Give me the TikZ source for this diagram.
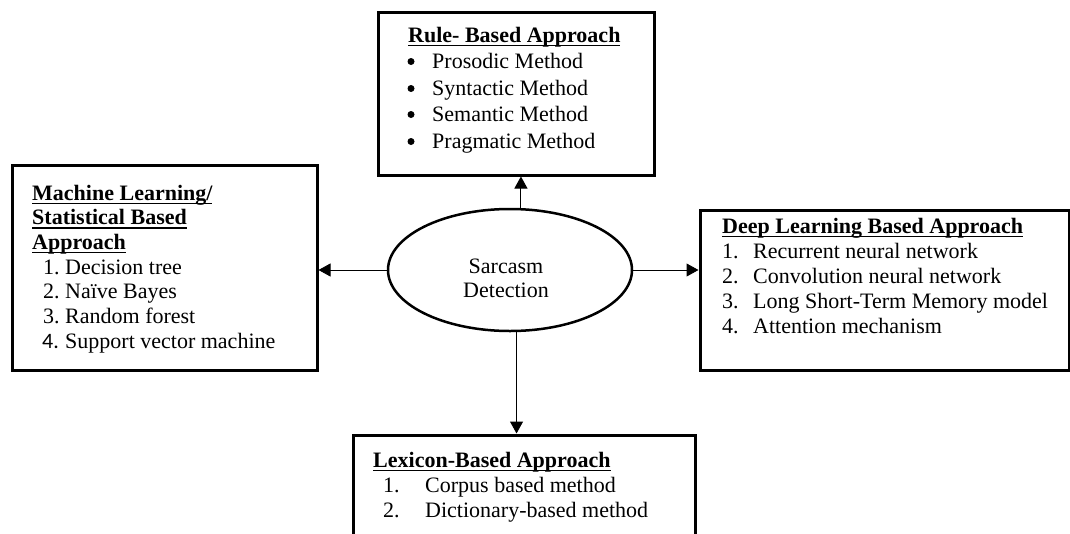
\documentclass[tikz,border=0pt]{standalone}
\usepackage{fontspec}
\setmainfont{Liberation Serif}
\newfontfamily\numfont{Carlito}
\usetikzlibrary{arrows.meta,shapes.geometric}
\newlength\ulw
\newcommand\uln[1]{\settowidth\ulw{#1}\rlap{\rule[-4pt]{\ulw}{1.5pt}}#1}

\begin{document}
\begin{tikzpicture}[line cap=round,line join=round,>={Triangle[length=12pt,width=13pt]},x=1pt,y=-1pt,
  box/.style={draw,line width=3pt,line cap=butt,line join=miter,inner sep=0pt},
  txt/.style={anchor=base west,inner sep=0pt,font=\fontsize{22}{26}\selectfont},
  hd/.style={txt,font=\fontsize{22}{26}\selectfont\bfseries},
  dot/.style={txt,anchor=base},
  bul/.style={circle,fill,inner sep=0pt,minimum size=7pt}]
\useasboundingbox (0,0) rectangle (1070,533);
\clip (0,0) rectangle (1070,533);

% boxes
\node[box,minimum width=276pt,minimum height=163pt] (rule) at (516,93.5) {};
\node[box,minimum width=305pt,minimum height=205pt] (ml) at (164.5,267.5) {};
\node[box,minimum width=369pt,minimum height=160pt] (dl) at (884.5,290) {};
\node[box,minimum width=342pt,minimum height=140pt] (lex) at (524,505) {};
\node[ellipse,draw,line width=2.5pt,minimum width=244pt,minimum height=122pt,inner sep=0pt] (sd) at (510,270) {};
\node[dot] (sd1) at (506,273) {Sarcasm};
\node[dot] (sd2) at (506,297) {Detection};

% rule based
\node[hd] (r0) at (408,42) {\uln{Rule- Based Approach}};
\node[bul] (b1) at (411,61.5) {};
\node[txt] (r1) at (432,68) {Prosodic Method};
\node[bul] (b2) at (411,88.5) {};
\node[txt] (r2) at (432,95) {Syntactic Method};
\node[bul] (b3) at (411,114.5) {};
\node[txt] (r3) at (432,121) {Semantic Method};
\node[bul] (b4) at (411,141.5) {};
\node[txt] (r4) at (432,148) {Pragmatic Method};

% machine learning
\node[hd] (m0) at (32,200) {\uln{Machine Learning/}};
\node[hd] (m00) at (32,224.7) {\uln{Statistical Based}};
\node[hd] (m000) at (32,249.4) {\uln{Approach}};
\node[txt] (n1) at (43,274) {1.};
\node[txt] (m1) at (65,274) {Decision tree};
\node[txt] (n2) at (43,298.8) {2.};
\node[txt] (m2) at (65,298.8) {Naïve Bayes};
\node[txt] (n3) at (43,323.5) {3.};
\node[txt] (m3) at (65,323.5) {Random forest};
\node[txt] (n4) at (42,348.2) {\numfont 4.};
\node[txt] (m4) at (65,348.2) {Support vector machine};

% deep learning
\node[hd] (d0) at (722,233) {\uln{Deep Learning Based Approach}};
\node[txt] (k1) at (722,258) {1.};
\node[txt] (d1) at (753,258) {Recurrent neural network};
\node[txt] (k2) at (722,283) {2.};
\node[txt] (d2) at (753,283) {Convolution neural network};
\node[txt] (k3) at (722,308) {3.};
\node[txt] (d3) at (753,308) {Long Short-Term Memory model};
\node[txt] (k4) at (722,333) {4.};
\node[txt] (d4) at (753,333) {Attention mechanism};

% lexicon
\node[hd] (l0) at (373,467) {\uln{Lexicon-Based Approach}};
\node[txt] (j1) at (383,492) {1.};
\node[txt] (l1) at (425,492) {Corpus based method};
\node[txt] (j2) at (383,517) {2.};
\node[txt] (l2) at (425,517) {Dictionary-based method};

% arrows
\draw[->,line width=1pt] (sd.80) -- (sd.80 |- rule.south);
\draw[->,line width=1pt] (sd.west) -- (sd.west -| ml.east);
\draw[->,line width=1pt] (sd.east) -- (sd.east -| dl.west);
\draw[->,line width=1pt] (sd.-84) -- (sd.-84 |- lex.north);

\end{tikzpicture}
\end{document}
